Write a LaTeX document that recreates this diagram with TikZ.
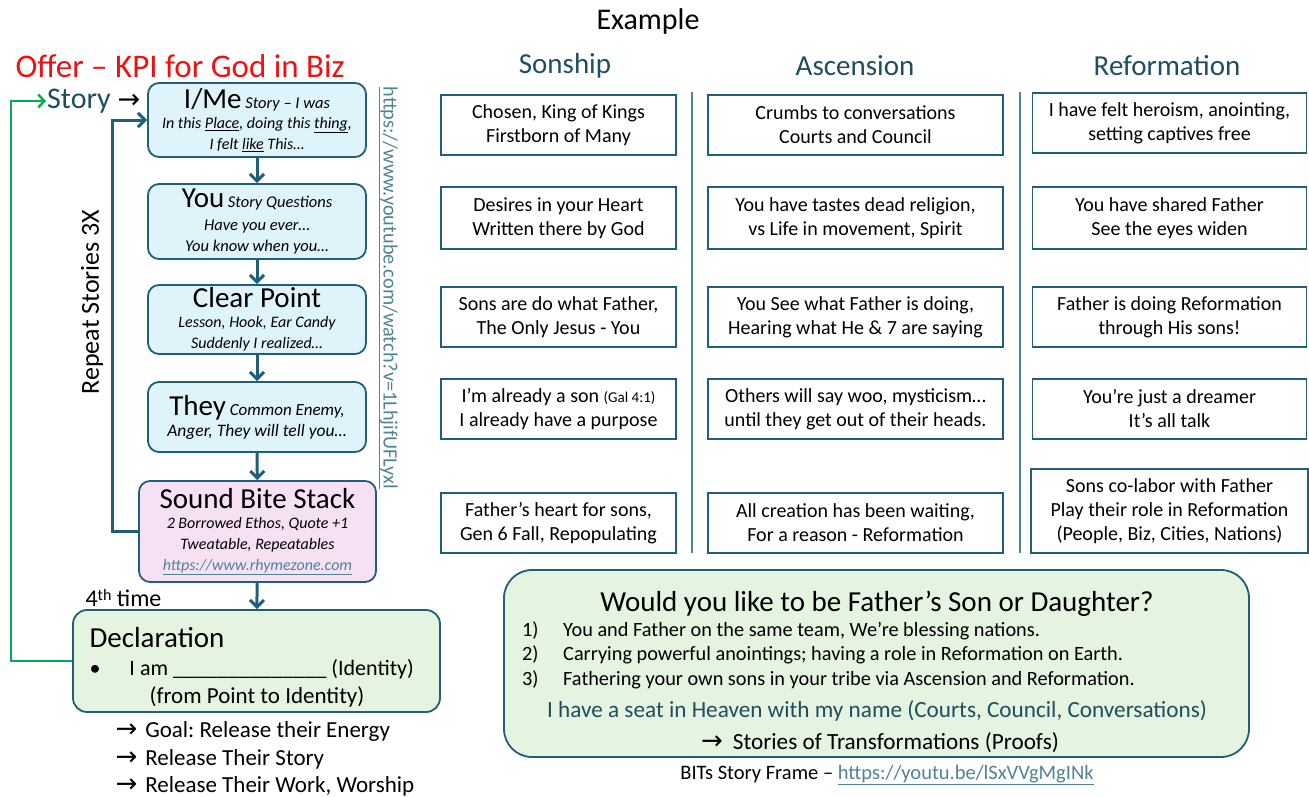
\documentclass[tikz,border=0pt]{standalone}
\usepackage{fontspec}
\setmainfont{Carlito}
\newfontfamily\arrowfont{DejaVu Sans}
\usetikzlibrary{arrows.meta,positioning}
\frenchspacing

\definecolor{boxline}{HTML}{1F5F7A}
\definecolor{headteal}{HTML}{1F4E5F}
\definecolor{linkgray}{HTML}{4F8396}
\definecolor{offerred}{HTML}{F01010}
\definecolor{loopgreen}{HTML}{00B050}
\definecolor{iceblue}{HTML}{DFF3FB}
\definecolor{softpink}{HTML}{F6E1F4}
\definecolor{mintgreen}{HTML}{E4F4E0}

\newcommand{\fsz}[2]{\fontsize{#1}{#2}\selectfont}
\newcommand{\rarr}{{\arrowfont\fsz{26}{26}→}}

\tikzset{
  flowbox/.style={draw=boxline, line width=1.8pt, rounded corners=11pt, fill=iceblue,
    minimum width=218pt, align=center, inner sep=2pt, font=\fsz{16.5}{21}\itshape},
  idea/.style={draw=boxline, line width=1.2pt, fill=white, align=center,
    inner sep=2pt, font=\fsz{20}{24}},
  colhead/.style={text=headteal, font=\fsz{29}{32}},
  flowarrow/.style={boxline, line width=3pt, -{Straight Barb[length=7pt,width=14pt,line width=3pt]}},
}

\begin{document}
\begin{tikzpicture}[x=1pt, y=-1pt]
  \useasboundingbox (0,0) rectangle (1309,796);

  % titles
  \node[font=\fsz{30}{32}] (example) at (648,21) {Example};
  \node[anchor=west, text=offerred, font=\fsz{33}{35}] (offer) at (12,66) {Offer – KPI for God in Biz};
  \node[anchor=west, font=\fsz{30}{32}, inner sep=1pt] (story) at (46,101) {\textcolor{headteal}{Story} {\arrowfont\fsz{27}{28}→}};

  % story flow
  \node[flowbox, minimum height=74pt] (ime) at (257,120)
    {{\upshape\fsz{29}{30}I/Me} Story – I was\\[-1pt]
     {\fsz{16}{19.5}In this \underline{Place}, doing this \underline{thing},}\\
     {\fsz{16}{19.5}I felt \underline{like} This…}};
  \node[flowbox, minimum height=75pt] (you) at (257,221.5)
    {{\upshape\fsz{29}{30}You} Story Questions\\[2pt]
     Have you ever…\\
     You know when you…};
  \node[flowbox, minimum height=69pt] (clear) at (257,319.5)
    {{\upshape\fsz{29}{30}Clear Point}\\[-1pt]
     {\fsz{16}{19.5}Lesson, Hook, Ear Candy}\\
     {\fsz{16}{19.5}Suddenly I realized…}};
  \node[flowbox, minimum height=70pt] (they) at (257,417)
    {{\upshape\fsz{29}{30}They} {\fsz{17}{21}Common Enemy,}\\
     {\fsz{17.5}{21}Anger, They will tell you…}};
  \node[flowbox, fill=softpink, minimum width=237pt, minimum height=101pt] (bites) at (257.5,531.5)
    {{\upshape\fsz{29}{30}Sound Bite Stack}\\[-1pt]
     {\fsz{16}{19.5}2 Borrowed Ethos, Quote +1}\\
     {\fsz{16}{19.5}Tweatable, Repeatables}\\
     {\fsz{16}{19.5}\textcolor{linkgray}{\underline{https://www.rhymezone.com}}}};
  \node[draw=boxline, line width=1.8pt, rounded corners=14pt, fill=mintgreen,
    minimum width=367pt, minimum height=102pt] (decl) at (256.5,661) {};
  \node[anchor=west, font=\fsz{29}{30}] (decltitle) at (86,638) {Declaration};
  \node[anchor=west, font=\fsz{22}{26}] (declline) at (86,669) {\textbullet\hspace{29pt}I am \_\_\_\_\_\_\_\_\_\_\_\_\_\_ (Identity)};
  \node[anchor=west, font=\fsz{23}{26}] (declnote) at (146,697) {(from Point to Identity)};

  \draw[flowarrow] (ime) -- (you);
  \draw[flowarrow] (you) -- (clear);
  \draw[flowarrow] (clear) -- (they);
  \draw[flowarrow] (they) -- (bites);
  \draw[flowarrow] (bites) -- (decl);

  % loops
  \draw[flowarrow] (bites.west) -- ++(-26,0) |- (ime.west);
  \draw[loopgreen, line width=2.5pt, -{Straight Barb[length=6pt,width=13pt,line width=2.5pt]}]
    (decl.west) -- ++(-61,0) |- (story.west);
  \node[rotate=90, font=\fsz{26}{28}] (repeat) at (92,302) {Repeat Stories 3X};
  \node[rotate=-90, text=linkgray, font=\fsz{20.3}{22}] (yturl) at (388,288)
    {\underline{https://www.youtube.com/watch?v=1LhjifUFLyxl}};
  \node[anchor=west, font=\fsz{24}{26}] (fourth) at (82,598) {4{\fsz{16}{16}\raisebox{6pt}{th}} time};

  % goals
  \node[anchor=west, font=\fsz{23}{26}] (goal1) at (112,731) {\rarr\hspace{8pt}Goal: Release their Energy};
  \node[anchor=west, font=\fsz{23}{26}] (goal2) at (112,759) {\rarr\hspace{8pt}Release Their Story};
  \node[anchor=west, font=\fsz{23}{26}] (goal3) at (112,786) {\rarr\hspace{8pt}Release Their Work, Worship};

  % columns
  \node[colhead] (sonship) at (565,66) {Sonship};
  \node[colhead] (ascension) at (855,66) {Ascension};
  \node[colhead] (reform) at (1167,66) {Reformation};
  \draw[linkgray, line width=1.5pt] (692,92) -- (692,553);
  \draw[linkgray, line width=1.5pt] (1020,92) -- (1020,553);

  \node[idea, minimum width=235pt, minimum height=60pt] (s1) at (558.5,125) {Chosen, King of Kings\\Firstborn of Many};
  \node[idea, minimum width=235pt, minimum height=62pt] (s2) at (558.5,218) {Desires in your Heart\\Written there by God};
  \node[idea, minimum width=235pt, minimum height=60pt] (s3) at (558.5,317) {Sons are do what Father,\\The Only Jesus - You};
  \node[idea, minimum width=235pt, minimum height=60pt] (s4) at (558.5,409) {I’m already a son {\fsz{15}{18}(Gal 4:1)}\\I already have a purpose};
  \node[idea, minimum width=235pt, minimum height=60pt] (s5) at (558.5,523) {Father’s heart for sons,\\Gen 6 Fall, Repopulating};

  \node[idea, minimum width=295pt, minimum height=60pt] (a1) at (855.5,125) {Crumbs to conversations\\Courts and Council};
  \node[idea, minimum width=295pt, minimum height=62pt] (a2) at (855.5,218) {You have tastes dead religion,\\vs Life in movement, Spirit};
  \node[idea, minimum width=295pt, minimum height=60pt] (a3) at (855.5,317) {You See what Father is doing,\\Hearing what He \& 7 are saying};
  \node[idea, minimum width=295pt, minimum height=60pt] (a4) at (855.5,409) {Others will say woo, mysticism…\\until they get out of their heads.};
  \node[idea, minimum width=295pt, minimum height=60pt] (a5) at (855.5,523) {All creation has been waiting,\\For a reason - Reformation};

  \node[idea, minimum width=274pt, minimum height=60pt] (r1) at (1169.5,123) {I have felt heroism, anointing,\\setting captives free};
  \node[idea, minimum width=274pt, minimum height=62pt] (r2) at (1169.5,218) {You have shared Father\\See the eyes widen};
  \node[idea, minimum width=274pt, minimum height=60pt] (r3) at (1169.5,317) {Father is doing Reformation\\through His sons!};
  \node[idea, minimum width=274pt, minimum height=60pt] (r4) at (1169.5,409) {You’re just a dreamer\\It’s all talk};
  \node[idea, minimum width=277pt, minimum height=84pt] (r5) at (1169.5,511) {Sons co-labor with Father\\Play their role in Reformation\\(People, Biz, Cities, Nations)};

  % invitation
  \node[draw=boxline, line width=1.8pt, rounded corners=28pt, fill=mintgreen,
    minimum width=745pt, minimum height=187pt] (invite) at (876.5,663.5) {};
  \node[font=\fsz{29}{30}] (question) at (877,604) {Would you like to be Father’s Son or Daughter?};
  \node[anchor=west, font=\fsz{20.3}{24.5}, inner sep=0pt] (points) at (522,656)
    {\begin{tabular}{@{}p{41pt}@{}l@{}}
      1) & You and Father on the same team, We’re blessing nations.\\
      2) & Carrying powerful anointings; having a role in Reformation on Earth.\\
      3) & Fathering your own sons in your tribe via Ascension and Reformation.
     \end{tabular}};
  \node[text=headteal, font=\fsz{23.2}{26}] (seat) at (877,711) {I have a seat in Heaven with my name (Courts, Council, Conversations)};
  \node[font=\fsz{23.2}{26}] (proofs) at (880,743) {\rarr\hspace{10pt}Stories of Transformations (Proofs)};
  \node[font=\fsz{20.5}{22}] (frame) at (887,775) {BITs Story Frame – \textcolor{linkgray}{\underline{https://youtu.be/lSxVVgMgINk}}};
\end{tikzpicture}
\end{document}
